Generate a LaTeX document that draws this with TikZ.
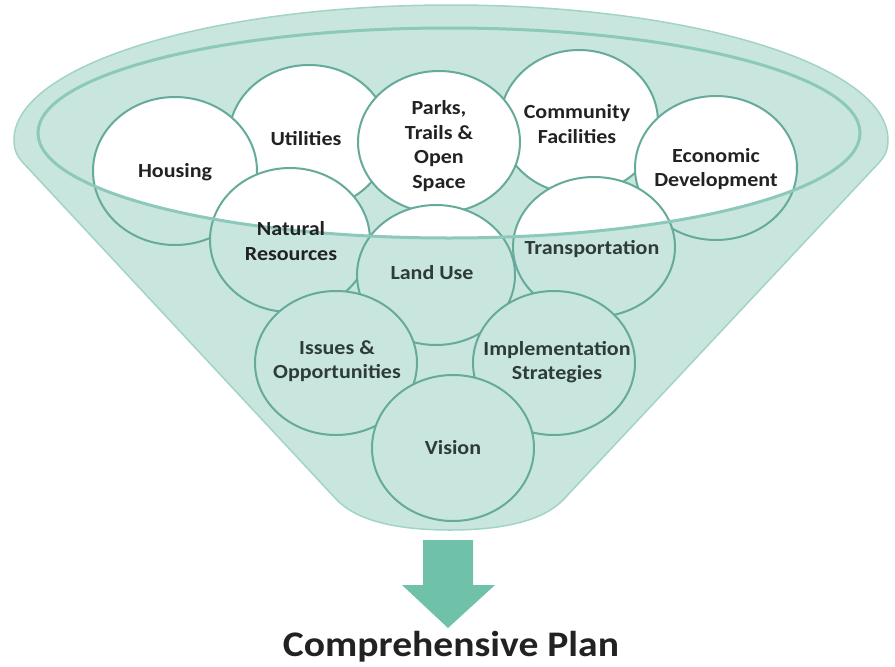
\documentclass[tikz,border=0pt]{standalone}
\usepackage{fontspec}
\setmainfont{Carlito}[FakeStretch=1.1]
\definecolor{funnel}{HTML}{C8E6DE}
\definecolor{funneledge}{HTML}{A3D3C7}
\definecolor{rim}{HTML}{8CC9BB}
\definecolor{bubbleedge}{HTML}{66AA9B}
\definecolor{arrowc}{HTML}{6FC1AA}
\definecolor{labelc}{HTML}{222222}
\definecolor{labellow}{HTML}{2E3B38}
\tikzset{
  lbl/.style={font=\fontsize{20}{24.5}\selectfont\bfseries, align=center, text=labelc, inner sep=0pt},
  lbllow/.style={lbl, text=labellow},
  bubbleline/.style={draw=bubbleedge, line width=2pt},
  titlelbl/.style={font=\fontsize{36}{42}\selectfont\bfseries, text=labelc, inner sep=0pt},
}
\newcommand\bubble[4]{%
  \fill[funnel] (#1,#2) ellipse[x radius=#3, y radius=#4];
  \begin{scope}
    \clip (0,-20) -- (895,-20) -- (895,133) -- (860,133)
      arc[start angle=0, end angle=180, x radius=411, y radius=105] -- (0,133) -- cycle;
    \fill[white] (#1,#2) ellipse[x radius=#3, y radius=#4];
  \end{scope}
  \draw[bubbleline] (#1,#2) ellipse[x radius=#3, y radius=#4];
}
\begin{document}
\begin{tikzpicture}[x=1pt,y=-1pt]
\useasboundingbox (0,0) rectangle (895,667);
% funnel body
\filldraw[fill=funnel, draw=funneledge, line width=1.5pt]
  (888,140) arc[start angle=0, end angle=-180, x radius=437, y radius=135]
  .. controls (14,152) and (18,158) .. (28,168)
  -- (336,499) .. controls (350,514) and (380,530) .. (450,530)
  .. controls (520,530) and (550,514) .. (564,499)
  -- (874,168) .. controls (884,158) and (888,152) .. (888,140) -- cycle;
% bubbles (back to front)
\bubble{309}{137}{80}{72}
\bubble{175}{171}{82}{74}
\bubble{579}{122}{79}{72}
\bubble{716}{168}{81}{72}
\bubble{439}{142}{81}{71}
\bubble{290}{240}{80}{72}
\bubble{594}{247}{81}{70}
\bubble{436}{275}{79}{70}
\bubble{336}{363}{81}{72}
\bubble{554}{363}{81}{72}
\bubble{453}{448}{81}{73}
% inner rim
\draw[rim, line width=3pt] (449,133) ellipse[x radius=411, y radius=105];
% labels
\node[lbl] (utilities) at (306,139) {Utilities};
\node[lbl] (housing) at (175,172) {Housing};
\node[lbl] (community) at (577,124) {Community\\Facilities};
\node[lbl] (economic) at (716,169) {Economic\\Development};
\node[lbl] (parks) at (439,146) {Parks,\\Trails \&\\Open\\Space};
\node[lbl] (natural) at (291,241) {Natural\\Resources};
\node[lbllow] (transport) at (592,249) {Transportation};
\node[lbllow] (landuse) at (432,273) {Land Use};
\node[lbllow] (issues) at (337,361) {Issues \&\\Opportunities};
\node[lbllow] (implement) at (557,362) {Implementation\\Strategies};
\node[lbllow] (vision) at (453,448) {Vision};
% arrow
\fill[arrowc] (423,540) -- (473,540) -- (473,585) -- (495,585) -- (448,628)
  -- (402,585) -- (423,585) -- cycle;
\node[titlelbl] (plan) at (451,647) {Comprehensive Plan};
\end{tikzpicture}
\end{document}
